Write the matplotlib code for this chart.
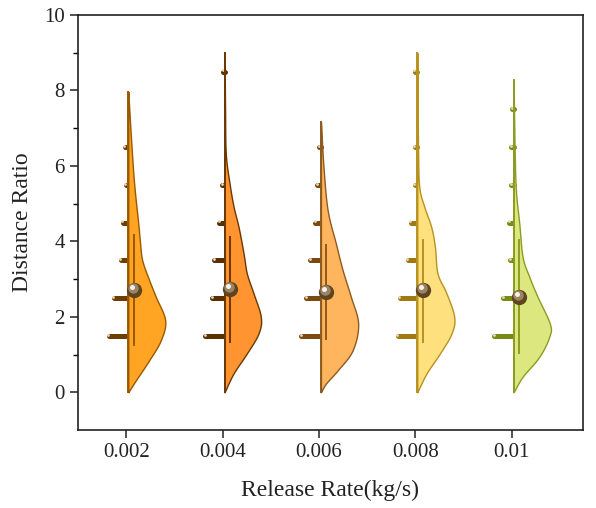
import numpy as np
import matplotlib
matplotlib.use('Agg')
import matplotlib.pyplot as plt

# ---------------- data ----------------
categories = ['0.002', '0.004', '0.006', '0.008', '0.01']

hist_bins = [1.5, 2.5, 3.5, 4.5, 5.5, 6.5, 7.5, 8.5]
hist_g1 = [22, 17, 10, 8, 5, 6, 0, 0]
hist_g2 = [22, 15, 13, 8, 5, 0, 0, 4]
hist_g3 = [22, 17, 13, 8, 6, 4, 0, 0]
hist_g4 = [22, 20, 12, 9, 5, 5, 0, 5]
hist_g5 = [22, 13, 6, 7, 5, 5, 4, 0]

vy_g1 = [0, 0.32, 0.85, 1.38, 1.91, 2.53, 2.97, 3.5, 4.0, 4.48, 5.5, 6.5, 7.97]
vd_g1 = [0, 7.7, 21, 32.6, 37, 27.6, 21, 14, 11.7, 10, 6, 3.3, 0]
vy_g2 = [0, 0.5, 1.03, 1.56, 2.0, 2.62, 3.15, 3.68, 4.38, 4.92, 5.53, 6.33, 7.5, 9.0]
vd_g2 = [0, 9, 22.3, 34, 36.3, 29, 22.3, 19, 14, 9, 5, 1.2, 0.5, 0]
vy_g3 = [0, 0.23, 0.58, 1.11, 1.82, 2.53, 3.24, 3.94, 4.83, 6.0, 7.17]
vd_g3 = [0, 5, 16.7, 31.7, 37.3, 30, 21.7, 15, 6.7, 2.5, 0]
vy_g4 = [0, 0.5, 1.03, 1.56, 2.0, 2.62, 3.15, 3.85, 4.38, 4.92, 5.45, 6.5, 9.0]
vd_g4 = [0, 9.3, 22.7, 34.3, 37, 29.3, 20.3, 17.7, 14, 7, 2, 0.8, 0]
vy_g5 = [0, 0.41, 0.94, 1.47, 1.82, 2.53, 3.06, 3.59, 4.47, 5.36, 6.5, 8.27]
vd_g5 = [0, 9, 25.7, 35.7, 36.3, 24, 15.7, 9, 5.7, 2.3, 1, 0]

whisker_low = [1.25, 1.33, 1.42, 1.33, 1.03]
whisker_high = [4.16, 4.12, 3.90, 4.03, 4.03]
means = [2.72, 2.75, 2.66, 2.72, 2.53]

hists = [hist_g1, hist_g2, hist_g3, hist_g4, hist_g5]
vys = [vy_g1, vy_g2, vy_g3, vy_g4, vy_g5]
vds = [vd_g1, vd_g2, vd_g3, vd_g4, vd_g5]

fill_colors = ['#FFA423', '#FF9430', '#FFB45E', '#FFE07E', '#DCE780']
edge_colors = ['#9A5800', '#6A3800', '#8E5A1E', '#B8921E', '#8C9C22']
bar_colors = ['#6E3E00', '#5A3000', '#7A4A10', '#A07A10', '#7A8A14']

# ---------------- helpers ----------------
def catmull(xs, ys, n=16):
    P = np.column_stack([xs, ys]).astype(float)
    P = np.vstack([P[0], P, P[-1]])
    out = []
    for i in range(1, len(P) - 2):
        p0, p1, p2, p3 = P[i - 1], P[i], P[i + 1], P[i + 2]
        t = np.linspace(0, 1, n, endpoint=False)[:, None]
        pts = 0.5 * ((2 * p1) + (-p0 + p2) * t + (2 * p0 - 5 * p1 + 4 * p2 - p3) * t ** 2
                     + (-p0 + 3 * p1 - 3 * p2 + p3) * t ** 3)
        out.append(pts)
    out.append(P[-2][None, :])
    o = np.vstack(out)
    o[:, 0] = np.clip(o[:, 0], 0, None)
    return o[:, 0], o[:, 1]

plt.rcParams['font.family'] = ['Liberation Serif', 'DejaVu Serif']

fig = plt.figure(figsize=(5.96, 5.08), dpi=100)
ax = fig.add_axes([0.131, 0.1535, 0.847, 0.817])

px = 1 / 96.5   # data units per pixel along x
pos = np.arange(1, len(categories) + 1)

for i, p in enumerate(pos):
    base = p + 2 * px
    # histogram bars (left)
    for yb, L in zip(hist_bins, hists[i]):
        if L <= 0:
            continue
        ax.plot([base - (L - 2.5) * px, base], [yb, yb], color=bar_colors[i], lw=3.6,
                solid_capstyle='round', zorder=2)
        ax.plot([base - (L - 2.5) * px - 0.5 * px], [yb + 0.03], marker='o', ms=2.0,
                color='#E8D8C0', mec='none', zorder=2.1)
    # half violin (right)
    w, y = catmull(vds[i], vys[i])
    ax.fill_betweenx(y, base, base + w * px, facecolor=fill_colors[i],
                     edgecolor=edge_colors[i], lw=1.0, zorder=3)
    ax.plot([base, base], [0, vys[i][-1]], color=edge_colors[i], lw=1.4, zorder=3.5)
    # whisker line
    xw = base + 5.5 * px
    ax.plot([xw, xw], [whisker_low[i], whisker_high[i]], color=edge_colors[i], lw=1.4,
            zorder=4)
    # mean ball
    ax.plot([xw], [means[i]], marker='o', ms=11, color='#5E4420', mec='none', zorder=5)
    ax.plot([xw - 1.0 * px], [means[i] + 0.04], marker='o', ms=7.5, color='#9C8462',
            mec='none', zorder=5.1)
    ax.plot([xw - 2.0 * px], [means[i] + 0.08], marker='o', ms=3.6, color='#F4F0EA',
            mec='none', zorder=5.2)

ax.set_xlim(0.5, 5.74)
ax.set_ylim(-1, 10)
ax.set_xticks(pos)
ax.set_xticklabels(categories)
ax.set_yticks([0, 2, 4, 6, 8, 10])
ax.set_yticks([1, 3, 5, 7, 9], minor=True)
ax.tick_params(axis='both', which='major', direction='out', length=6, width=1.1,
               labelsize=15, colors='#222222')
ax.tick_params(axis='y', which='minor', direction='out', length=3.5, width=1.0)
ax.tick_params(top=False, right=False)
for s in ax.spines.values():
    s.set_linewidth(1.2)
    s.set_color('#222222')

ax.set_xlabel('Release Rate(kg/s)', fontsize=17, color='#222222', labelpad=13)
ax.set_ylabel('Distance Ratio', fontsize=17, color='#222222', labelpad=8)

fig.savefig('out.png', dpi=100)
